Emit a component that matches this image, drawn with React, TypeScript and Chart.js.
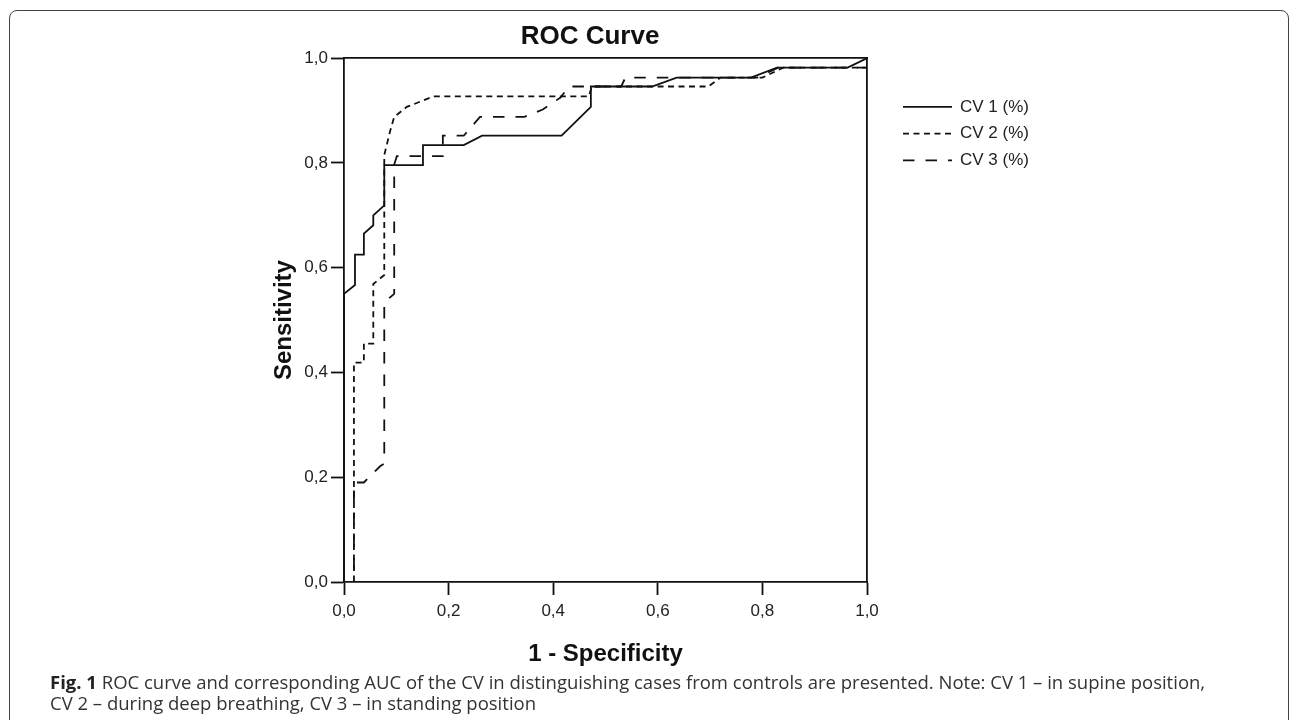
import React, { useEffect, useRef } from 'react';
import { Chart, registerables } from 'chart.js';

Chart.register(...registerables);

const chartTitle = 'ROC Curve';
const xTitle = '1 - Specificity';
const yTitle = 'Sensitivity';
const seriesNames = ['CV 1 (%)', 'CV 2 (%)', 'CV 3 (%)'];
const tickLabels = ['0,0', '0,2', '0,4', '0,6', '0,8', '1,0'];

const cv1X = [0, 0, 0.021, 0.021, 0.038, 0.038, 0.056, 0.056, 0.077, 0.077, 0.151, 0.151, 0.229, 0.264, 0.416, 0.472, 0.472, 0.589, 0.636, 0.778, 0.828, 0.963, 1.0];
const cv1Y = [0, 0.55, 0.567, 0.625, 0.625, 0.665, 0.681, 0.7, 0.719, 0.796, 0.796, 0.834, 0.834, 0.852, 0.852, 0.907, 0.946, 0.946, 0.963, 0.963, 0.982, 0.982, 1.0];

const cv2X = [0, 0.019, 0.019, 0.038, 0.038, 0.056, 0.056, 0.077, 0.077, 0.088, 0.096, 0.12, 0.171, 0.468, 0.474, 0.697, 0.72, 0.8, 0.84, 1.0, 1.0];
const cv2Y = [0, 0, 0.419, 0.419, 0.455, 0.455, 0.569, 0.586, 0.815, 0.86, 0.888, 0.907, 0.927, 0.927, 0.946, 0.946, 0.963, 0.963, 0.982, 0.982, 1.0];

const cv3X = [0, 0.019, 0.019, 0.038, 0.069, 0.077, 0.077, 0.096, 0.096, 0.101, 0.189, 0.189, 0.229, 0.26, 0.345, 0.38, 0.414, 0.43, 0.53, 0.538, 0.79, 0.83, 1.0, 1.0];
const cv3Y = [0, 0, 0.19, 0.19, 0.221, 0.226, 0.534, 0.55, 0.797, 0.813, 0.813, 0.852, 0.852, 0.888, 0.888, 0.902, 0.925, 0.946, 0.946, 0.963, 0.963, 0.982, 0.982, 1.0];

const seriesDash = [[], [6, 4.5], [11.5, 11]];

const FONT = '"Liberation Sans", Arial, Helvetica, sans-serif';
const INK = '#111111';

const toPoints = (xs: number[], ys: number[]) => xs.map((x, i) => ({ x, y: ys[i] }));

const sideLegend = {
  id: 'sideLegend',
  afterDraw(chart: any) {
    const { ctx, chartArea } = chart;
    ctx.save();
    chart.data.datasets.forEach((ds: any, i: number) => {
      const y = chartArea.top + 48.7 + i * 26.7;
      const x0 = chartArea.right + 36;
      ctx.beginPath();
      ctx.setLineDash(ds.borderDash || []);
      ctx.lineWidth = ds.borderWidth;
      ctx.strokeStyle = ds.borderColor;
      ctx.moveTo(x0, y);
      ctx.lineTo(x0 + 49, y);
      ctx.stroke();
      ctx.setLineDash([]);
      ctx.font = `17px ${FONT}`;
      ctx.fillStyle = '#222';
      ctx.textAlign = 'left';
      ctx.textBaseline = 'middle';
      ctx.fillText(ds.label, x0 + 57, y);
    });
    ctx.restore();
  },
};

export default function App() {
  const canvasRef = useRef<HTMLCanvasElement | null>(null);

  useEffect(() => {
    document.body.style.margin = '0';
    const canvas = canvasRef.current;
    if (!canvas) return;
    const series = [toPoints(cv1X, cv1Y), toPoints(cv2X, cv2Y), toPoints(cv3X, cv3Y)];
    const chart = new Chart(canvas, {
      type: 'scatter',
      data: {
        datasets: series.map((pts, i) => ({
          label: seriesNames[i],
          data: pts,
          showLine: true,
          borderColor: INK,
          backgroundColor: INK,
          borderWidth: 1.8,
          borderDash: seriesDash[i],
          pointRadius: 0,
          pointHoverRadius: 0,
          tension: 0,
          fill: false,
          xAxisID: 'x',
          yAxisID: 'y',
        })),
      },
      options: {
        animation: false,
        responsive: true,
        maintainAspectRatio: false,
        events: [],
        layout: { padding: { left: 260, right: 370, top: 20, bottom: 51 } },
        plugins: {
          legend: { display: false },
          tooltip: { enabled: false },
          title: {
            display: true,
            text: chartTitle,
            color: INK,
            font: { family: FONT, size: 26, weight: 'bold' },
            padding: { top: 1, bottom: 6 },
          },
        },
        scales: {
          x: {
            type: 'linear',
            position: 'bottom',
            min: 0,
            max: 1,
            ticks: {
              stepSize: 0.2,
              autoSkip: false,
              maxRotation: 0,
              padding: 6,
              color: '#222',
              font: { family: FONT, size: 17 },
              callback: (_v: any, i: number) => tickLabels[i],
            },
            grid: { display: true, drawOnChartArea: false, drawTicks: true, tickLength: 13, tickWidth: 1.8, tickColor: INK },
            border: { display: true, color: INK, width: 1.8 },
            title: { display: true, text: xTitle, color: INK, font: { family: FONT, size: 24, weight: 'bold' }, padding: { top: 0, bottom: 0 } },
            afterFit: (s: any) => { s.height = 87; },
          },
          y: {
            type: 'linear',
            position: 'left',
            min: 0,
            max: 1,
            ticks: {
              stepSize: 0.2,
              autoSkip: false,
              padding: 3,
              color: '#222',
              font: { family: FONT, size: 17 },
              callback: (_v: any, i: number) => tickLabels[i],
            },
            grid: { display: true, drawOnChartArea: false, drawTicks: true, tickLength: 13, tickWidth: 1.8, tickColor: INK },
            border: { display: true, color: INK, width: 1.8 },
            title: { display: true, text: yTitle, color: INK, font: { family: FONT, size: 24, weight: 'bold' }, padding: { top: 9.6, bottom: 0 } },
            afterFit: (s: any) => { s.width = 84; },
          },
          x2: {
            type: 'linear',
            position: 'top',
            min: 0,
            max: 1,
            ticks: { display: false },
            grid: { display: false, drawTicks: false },
            border: { display: true, color: INK, width: 1.8 },
            afterFit: (s: any) => { s.height = 0; },
          },
          y2: {
            type: 'linear',
            position: 'right',
            min: 0,
            max: 1,
            ticks: { display: false },
            grid: { display: false, drawTicks: false },
            border: { display: true, color: INK, width: 1.8 },
            afterFit: (s: any) => { s.width = 53; },
          },
        },
      } as any,
      plugins: [sideLegend],
    });
    return () => chart.destroy();
  }, []);

  return (
    <div style={{ position: 'relative', width: 1290, height: 720, overflow: 'hidden', background: '#fff' }}>
      <div style={{ position: 'absolute', left: 0, top: 0, width: 1290, height: 720 }}>
        <canvas ref={canvasRef} />
      </div>
      <div
        style={{
          position: 'absolute',
          left: 9,
          top: 10,
          width: 1280,
          height: 780,
          boxSizing: 'border-box',
          border: '1.5px solid #444',
          borderRadius: 8,
          pointerEvents: 'none',
        }}
      />
      <div
        style={{
          position: 'absolute',
          left: 50,
          top: 671,
          fontFamily: '"Open Sans", "Noto Sans", sans-serif',
          fontSize: 18.5,
          lineHeight: '21px',
          color: '#333',
          whiteSpace: 'nowrap',
        }}
      >
        <span style={{ fontWeight: 'bold', color: '#222' }}>Fig. 1</span> ROC curve and corresponding AUC of the CV in distinguishing cases from controls are presented. Note: CV 1 – in supine position,
        <br />
        CV 2 – during deep breathing, CV 3 – in standing position
      </div>
    </div>
  );
}
